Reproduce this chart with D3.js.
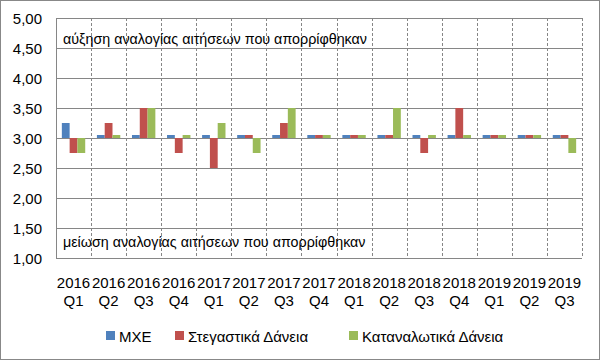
<!DOCTYPE html>
<html>
<head>
<meta charset="utf-8">
<script src="https://cdn.jsdelivr.net/npm/d3@7"></script>
<style>
  body { margin: 0; background: #fff; }
  text { font-family: "Liberation Sans", Arial, sans-serif; fill: #000; }
</style>
</head>
<body>
<svg id="chart" width="601" height="361"></svg>
<script>
// κατηγορίες (έτος / τρίμηνο)
var years = ["2016","2016","2016","2016","2017","2017","2017","2017","2018","2018","2018","2018","2019","2019","2019"];
var quarters = ["Q1","Q2","Q3","Q4","Q1","Q2","Q3","Q4","Q1","Q2","Q3","Q4","Q1","Q2","Q3"];

var seriesNames = ["ΜΧΕ", "Στεγαστικά Δάνεια", "Καταναλωτικά Δάνεια"];
var mxe        = [3.25, 3.05, 3.05, 3.05, 3.05, 3.05, 3.05, 3.05, 3.05, 3.05, 3.05, 3.05, 3.05, 3.05, 3.05];
var stegastika = [2.75, 3.25, 3.50, 2.75, 2.50, 3.05, 3.25, 3.05, 3.05, 3.05, 2.75, 3.50, 3.05, 3.05, 3.05];
var katanal    = [2.75, 3.05, 3.50, 3.05, 3.25, 2.75, 3.50, 3.05, 3.05, 3.50, 3.05, 3.05, 3.05, 3.05, 2.75];

var yTicks = [1.0, 1.5, 2.0, 2.5, 3.0, 3.5, 4.0, 4.5, 5.0];
var baseline = 3.0;
var noteUp = "αύξηση αναλογίας αιτήσεων που απορρίφθηκαν";
var noteDown = "μείωση αναλογίας αιτήσεων που απορρίφθηκαν";

var colors = ["#4F81BD", "#C0504D", "#9BBB59"];

const margin = {top: 18, right: 19, bottom: 103, left: 56};
const width = 601, height = 361;
const plot_w = width - margin.left - margin.right;
const plot_h = height - margin.top - margin.bottom;

var svg = d3.select("#chart");

// πλαίσιο γραφήματος
svg.append("rect")
    .attr("x", 0.5).attr("y", 0.5)
    .attr("width", 599).attr("height", 359)
    .attr("fill", "#fff")
    .attr("stroke", "#888")
    .attr("stroke-width", 1);

var cats = years.map(function(d, i){ return i; });

const x = d3.scaleBand()
    .domain(cats)
    .range([0, plot_w]);

const x1 = d3.scaleBand()
    .domain([0, 1, 2])
    .range([0, x.bandwidth()])
    .paddingInner(0)
    .paddingOuter(0.75);

const y = d3.scaleLinear()
    .domain([1, 5])
    .range([plot_h, 0]);

var G = svg.append("g")
    .attr("transform", "translate(" + margin.left + "," + margin.top + ")");

// οριζόντιες γραμμές
G.append("g")
    .selectAll("line")
    .data(yTicks)
    .enter()
    .append("line")
    .attr("x1", 0).attr("x2", plot_w)
    .attr("y1", function(d){ return Math.round(y(d)) + 0.5; })
    .attr("y2", function(d){ return Math.round(y(d)) + 0.5; })
    .attr("stroke", "#868686")
    .attr("stroke-width", 1);

// κάθετες διακεκομμένες
G.append("g")
    .selectAll("line")
    .data(cats)
    .enter()
    .append("line")
    .attr("x1", function(d){ return Math.round(x(d) + x.bandwidth()) + 0.5; })
    .attr("x2", function(d){ return Math.round(x(d) + x.bandwidth()) + 0.5; })
    .attr("y1", 0).attr("y2", plot_h)
    .attr("stroke", "#868686")
    .attr("stroke-dasharray", "3,2")
    .attr("stroke-width", 1);

// άξονας y
G.append("line")
    .attr("x1", 0.5).attr("x2", 0.5)
    .attr("y1", 0).attr("y2", plot_h)
    .attr("stroke", "#868686");

G.append("g")
    .selectAll("text")
    .data(yTicks)
    .enter()
    .append("text")
    .attr("x", -14)
    .attr("y", function(d){ return y(d); })
    .attr("text-anchor", "end")
    .attr("dominant-baseline", "central")
    .style("font-size", "15px")
    .text(function(d){ return d.toFixed(2).replace(".", ","); });

// ράβδοι
var all = [mxe, stegastika, katanal];
all.forEach(function(vals, s){
    G.append("g")
        .selectAll("rect")
        .data(vals)
        .enter()
        .append("rect")
        .attr("x", function(d, i){ return x(i) + x1(s); })
        .attr("width", x1.bandwidth())
        .attr("y", function(d){ return y(Math.max(d, baseline)); })
        .attr("height", function(d){ return Math.abs(y(d) - y(baseline)); })
        .attr("fill", colors[s]);
});

// σημειώσεις
G.append("text")
    .attr("x", 7)
    .attr("y", y(4.5) - 4)
    .style("font-size", "14.3px")
    .text(noteUp);

G.append("text")
    .attr("x", 7)
    .attr("y", y(1.0) - 11)
    .style("font-size", "14.3px")
    .text(noteDown);

// ετικέτες άξονα x
var xl = G.append("g")
    .selectAll("text")
    .data(cats)
    .enter()
    .append("text")
    .attr("text-anchor", "middle")
    .style("font-size", "15px")
    .attr("transform", function(d){ return "translate(" + (x(d) + x.bandwidth()/2) + "," + (plot_h + 30) + ")"; });

xl.append("tspan").attr("x", 0).attr("y", 0).text(function(d){ return years[d]; });
xl.append("tspan").attr("x", 0).attr("y", 18).text(function(d){ return quarters[d]; });

// υπόμνημα
var legendX = [106, 175, 349];
var legend = svg.append("g")
    .selectAll("g")
    .data(seriesNames)
    .enter()
    .append("g")
    .attr("transform", function(d, i){ return "translate(" + legendX[i] + ",331)"; });

legend.append("rect")
    .attr("width", 9).attr("height", 9)
    .attr("fill", function(d, i){ return colors[i]; });

legend.append("text")
    .attr("x", 13)
    .attr("y", 5)
    .attr("dominant-baseline", "central")
    .style("font-size", "15px")
    .text(function(d){ return d; });
</script>
</body>
</html>
